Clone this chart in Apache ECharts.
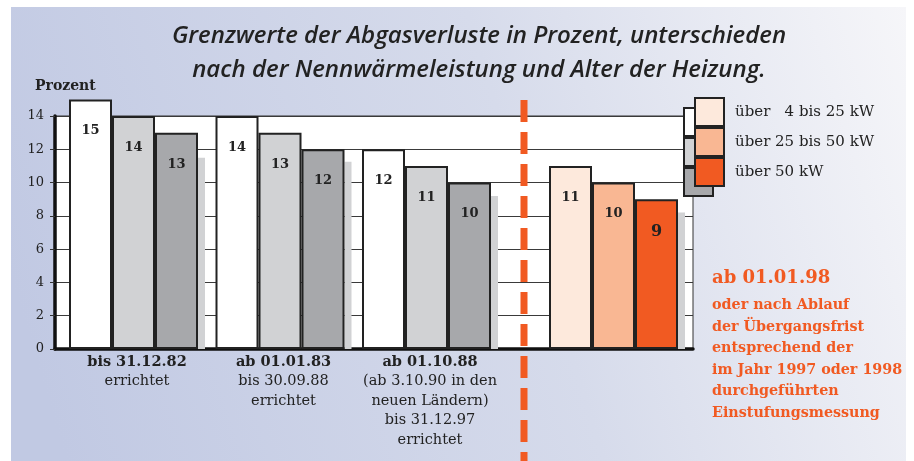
<!DOCTYPE html>
<html><head><meta charset="utf-8">
<script src="https://cdn.jsdelivr.net/npm/echarts@6/dist/echarts.min.js"></script>
<style>html,body{margin:0;padding:0;background:#fff}#c{width:914px;height:461px}</style>
</head><body><div id="c"></div>
<script>
// ---- data ----
const seriesNames = ['über \u20074 bis 25 kW', 'über 25 bis 50 kW', 'über 50 kW'];
const groupTitles = ['bis 31.12.82', 'ab 01.01.83', 'ab 01.10.88'];
const groupNotes = [
  ['errichtet'],
  ['bis 30.09.88', 'errichtet'],
  ['(ab 3.10.90 in den', 'neuen Ländern)', 'bis 31.12.97', 'errichtet']
];
const oldUpTo25 = [15, 14, 12];
const old25to50 = [14, 13, 11];
const oldOver50 = [13, 12, 10];
const oldShadow = [11.5, 11.25, 9.2];
const newGroup = ['ab 01.01.98'];
const newUpTo25 = [11];
const new25to50 = [10];
const newOver50 = [9];
const newShadow = [8.2];
const yTicks = [0, 2, 4, 6, 8, 10, 12, 14];

// ---- styles ----
const F = 'DejaVu Serif';
const INK = '#222';
const grayColors = ['#ffffff', '#d1d2d4', '#a7a8ab'];
const orangeColors = ['#fde9dc', '#f9b793', '#f15a22'];
const ORANGE = '#f15a22';
const SHADOW = '#d1d2d4';

const chart = echarts.init(document.getElementById('c'));

function barSeries(name, data, color, gridIdx, labelSize) {
  return {
    type: 'bar', name, data,
    xAxisIndex: gridIdx, yAxisIndex: gridIdx,
    barWidth: 43, barGap: '0%',
    itemStyle: { color, borderColor: INK, borderWidth: 2 },
    label: { show: true, position: 'insideTop', distance: 25, fontFamily: F, fontWeight: 'bold', fontSize: labelSize || 13, color: INK },
    emphasis: { disabled: true },
    z: 3
  };
}
function shadowSeries(data, gridIdx) {
  return {
    type: 'bar', name: 'shadow', data,
    xAxisIndex: gridIdx, yAxisIndex: gridIdx,
    barWidth: 7, barGap: '0%',
    itemStyle: { color: SHADOW },
    emphasis: { disabled: true }, silent: true, z: 2
  };
}

const legendBase = {
  orient: 'vertical', padding: 0, itemGap: 0, itemWidth: 29, itemHeight: 28,
  icon: 'rect', selectedMode: false,
  itemStyle: { borderColor: INK, borderWidth: 2 }
};

const option = {
  backgroundColor: '#ffffff',
  animation: false,
  graphic: [
    { type: 'rect', z: -100, silent: true,
      shape: { x: 11, y: 7, width: 895, height: 454 },
      style: { fill: { type: 'linear', x: 0, y: 0.6, x2: 1, y2: 0,
        colorStops: [{ offset: 0, color: '#c1c9e3' }, { offset: 0.55, color: '#d6dbeb' }, { offset: 1, color: '#f6f6f9' }] } } },
    { type: 'line', z: 50, silent: true,
      shape: { x1: 524, y1: 100, x2: 524, y2: 461 },
      style: { stroke: ORANGE, lineWidth: 7, lineDash: [22, 10] } }
  ],
  title: [
    { text: 'Grenzwerte der Abgasverluste in Prozent, unterschieden\nnach der Nennwärmeleistung und Alter der Heizung.',
      left: 474, top: 14, textAlign: 'center',
      textStyle: { fontFamily: 'Open Sans', fontStyle: 'italic', fontWeight: 600, fontSize: 24, lineHeight: 34, color: INK } },
    { text: 'Prozent', left: 30, top: 74,
      textStyle: { fontFamily: F, fontWeight: 'bold', fontSize: 14, color: INK } },
    { text: '{h|ab 01.01.98}\n{t|oder nach Ablauf}\n{t|der Übergangsfrist}\n{t|entsprechend der}\n{t|im Jahr 1997 oder 1998}\n{t|durchgeführten}\n{t|Einstufungsmessung}',
      left: 707, top: 257,
      textStyle: { rich: {
        h: { fontFamily: F, fontWeight: 'bold', fontSize: 18, color: ORANGE, lineHeight: 33 },
        t: { fontFamily: F, fontWeight: 'bold', fontSize: 14.3, color: ORANGE, lineHeight: 21.5 }
      } } }
  ],
  legend: [
    Object.assign({}, legendBase, {
      left: 683, top: 107, z: 4,
      data: seriesNames.map((n, i) => ({ name: n, itemStyle: { color: grayColors[i] } })),
      formatter: () => ''
    }),
    Object.assign({}, legendBase, {
      left: 694, top: 97, z: 5,
      data: seriesNames.map((n, i) => ({ name: n, itemStyle: { color: orangeColors[i] } })),
      textStyle: { fontFamily: F, fontSize: 15, color: INK, padding: [0, 0, 0, 6] }
    })
  ],
  grid: [
    { left: 63.75, right: 914 - 503.25, top: 99.4, bottom: 112 },
    { left: 543.75, right: 914 - 690.25, top: 99.4, bottom: 112 },
    { left: 55, right: 914 - 693, top: 116, bottom: 112, show: true, backgroundColor: '#ffffff', borderColor: '#333', borderWidth: 1, z: 0 }
  ],
  xAxis: [
    { type: 'category', gridIndex: 0, data: groupTitles,
      axisLine: { show: false }, axisTick: { show: false },
      axisLabel: { margin: 3, interval: 0, fontFamily: F, fontSize: 14.5, color: INK, lineHeight: 19.5,
        formatter: (v, i) => '{b|' + v + '}\n' + groupNotes[i].join('\n'),
        rich: { b: { fontFamily: F, fontWeight: 'bold', fontSize: 14.5, color: INK, lineHeight: 19.5 } } } },
    { type: 'category', gridIndex: 1, data: newGroup,
      axisLine: { show: false }, axisTick: { show: false }, axisLabel: { show: false } },
    { type: 'value', gridIndex: 2, min: 0, max: 1,
      axisLine: { show: true, lineStyle: { color: '#111', width: 3.5 } },
      axisTick: { show: false }, axisLabel: { show: false }, splitLine: { show: false } }
  ],
  yAxis: [
    { type: 'value', gridIndex: 0, min: 0, max: 15, show: false },
    { type: 'value', gridIndex: 1, min: 0, max: 15, show: false },
    { type: 'value', gridIndex: 2, min: yTicks[0], max: yTicks[yTicks.length - 1], interval: 2,
      axisLine: { show: true, lineStyle: { color: '#111', width: 3.5 } },
      axisTick: { show: true, length: 5, lineStyle: { color: '#333', width: 1 } },
      axisLabel: { margin: 11, fontFamily: F, fontSize: 13, color: INK },
      splitLine: { show: true, lineStyle: { color: '#3a3a3a', width: 1 } } }
  ],
  series: [
    barSeries(seriesNames[0], oldUpTo25, grayColors[0], 0),
    barSeries(seriesNames[1], old25to50, grayColors[1], 0),
    barSeries(seriesNames[2], oldOver50, grayColors[2], 0),
    shadowSeries(oldShadow, 0),
    barSeries(seriesNames[0], newUpTo25, orangeColors[0], 1),
    barSeries(seriesNames[1], new25to50, orangeColors[1], 1),
    barSeries(seriesNames[2], newOver50, orangeColors[2], 1, 16),
    shadowSeries(newShadow, 1)
  ]
};
chart.setOption(option);
</script>
</body></html>
